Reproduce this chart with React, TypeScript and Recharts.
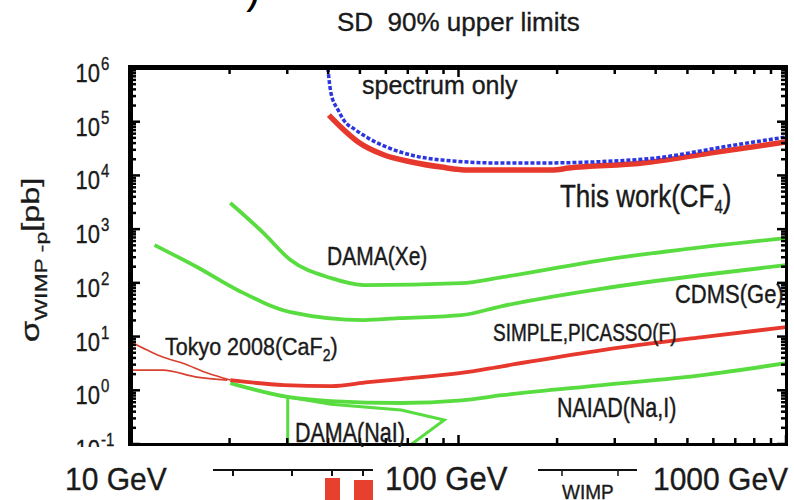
import React from "react";
import { LineChart, Line, XAxis, YAxis } from "recharts";

const W = 794;
const H = 500;
const PLOT = { left: 131, top: 68, right: 786, bottom: 444 };
const FONT = "'Liberation Sans', Arial, Helvetica, sans-serif";
const INK = "#1a1a1a";

const GREEN = "#58dc40";
const RED = "#e6382c";
const THIN_RED = "#d8402f";
const BLUE = "#2b36e0";

// WIMP mass [GeV] / cross section [pb]
const thisWorkMass = [40.2, 43.7, 49.4, 59.3, 71.8, 88.6, 107, 193, 217, 364, 585, 1000];
const thisWorkSigma = [1.33e5, 8e4, 4.2e4, 2.4e4, 1.78e4, 1.43e4, 1.26e4, 1.26e4, 1.37e4, 1.7e4, 2.6e4, 4.2e4];

const spectrumMass = [39.9, 40.8, 42.9, 44.6, 48.6, 52.9, 66.8, 88.8, 136, 171, 364, 700, 1000];
const spectrumSigma = [1e6, 3.4e5, 1.65e5, 1.08e5, 7e4, 5e4, 2.7e4, 1.94e4, 1.7e4, 1.7e4, 2.0e4, 3.7e4, 5.2e4];

const damaXeMass = [20.1, 25.4, 30.7, 40.8, 51.5, 102, 136, 275, 556, 1000];
const damaXeSigma = [3060, 845, 266, 123, 91, 99, 128, 266, 464, 682];

const cdmsMass = [11.8, 15.9, 21.2, 30.7, 51.5, 65.6, 102, 136, 275, 556, 1000];
const cdmsSigma = [506, 197, 73, 28.6, 20.3, 22, 25, 37, 78, 140, 214];

const simpleMass = [20.1, 29.3, 40.8, 53, 66.8, 102, 136, 275, 556, 1000];
const simpleSigma = [1.55, 1.25, 1.2, 1.42, 1.62, 2.1, 2.8, 5.6, 9.8, 15];

const simpleLowMass = [10, 12.5, 15.9, 19.7];
const simpleLowSigma = [2.38, 2.38, 1.76, 1.55];

const tokyoMass = [10, 11.2, 12.5, 14.4, 17.1, 20.1];
const tokyoSigma = [7.9, 5.6, 4.15, 3.2, 2.09, 1.55];

const naiadMass = [20.1, 30.1, 40.8, 66.8, 102, 136, 275, 556, 1000];
const naiadSigma = [1.36, 0.75, 0.63, 0.58, 0.65, 0.81, 1.25, 1.92, 3.2];

// closed region, drawn in order
const damaNaIMass = [30.1, 30.1, 40.8, 66.8, 90.5, 72];
const damaNaISigma = [0.1, 0.75, 0.55, 0.43, 0.28, 0.1];

const massTicks = [10, 20, 30, 40, 50, 60, 70, 80, 90, 100, 200, 300, 400, 500, 600, 700, 800, 900, 1000];
const sigmaTicks: number[] = [];
for (let e = -1; e < 6; e++) {
  for (let k = 1; k < 10; k++) sigmaTicks.push(k * Math.pow(10, e));
}
sigmaTicks.push(1e6);

const pts = (m: number[], s: number[]) => m.map((v, i) => ({ m: v, s: s[i] }));

function isDecade(v: number) {
  const e = Math.log10(v);
  return Math.abs(e - Math.round(e)) < 1e-6;
}

function MassTick(props: any) {
  const { x, payload } = props;
  const len = isDecade(payload.value) ? 9 : 6;
  return (
    <g>
      <line x1={x} x2={x} y1={PLOT.bottom} y2={PLOT.bottom - len} stroke="#000" strokeWidth={2.5} />
      <line x1={x} x2={x} y1={PLOT.top} y2={PLOT.top + len} stroke="#000" strokeWidth={2.5} />
    </g>
  );
}

function SigmaTick(props: any) {
  const { y, payload } = props;
  const v = payload.value;
  const major = isDecade(v);
  const len = major ? 9 : 5;
  return (
    <g>
      <line x1={PLOT.left} x2={PLOT.left + len} y1={y} y2={y} stroke="#000" strokeWidth={2.5} />
      <line x1={PLOT.right - len} x2={PLOT.right} y1={y} y2={y} stroke="#000" strokeWidth={2.5} />
      {major && (
        <g transform={`translate(100 ${y + 14}) scale(1 1.2)`} fontFamily={FONT} fill={INK} stroke={INK} strokeWidth={0.3}>
          <text x={0} y={0} textAnchor="end" fontSize={22}>10</text>
          <text x={1} y={-10} fontSize={15}>{Math.round(Math.log10(v))}</text>
        </g>
      )}
    </g>
  );
}

function Label({ x, y, size, sy = 1.2, children }: any) {
  return (
    <text
      transform={`translate(${x} ${y}) scale(1 ${sy})`}
      fontSize={size}
      fontFamily={FONT}
      fill={INK}
      stroke={INK}
      strokeWidth={0.35}
      style={{ whiteSpace: "pre" }}
    >
      {children}
    </text>
  );
}

export default function App() {
  return (
    <div style={{ position: "absolute", left: 0, top: 0, width: W, height: H, background: "#fff" }}>
      <LineChart width={W} height={H} margin={{ top: PLOT.top, right: W - PLOT.right, bottom: 0, left: 0 }}>
        <XAxis
          dataKey="m"
          type="number"
          scale="log"
          domain={[10, 1000]}
          allowDataOverflow
          ticks={massTicks}
          interval={0}
          height={H - PLOT.bottom}
          axisLine={false}
          tickLine={false}
          tickSize={0}
          tickMargin={0}
          tick={MassTick}
        />
        <YAxis
          dataKey="s"
          type="number"
          scale="log"
          domain={[0.1, 1e6]}
          allowDataOverflow
          ticks={sigmaTicks}
          interval={0}
          width={PLOT.left}
          axisLine={false}
          tickLine={false}
          tickSize={0}
          tickMargin={0}
          tick={SigmaTick}
        />

        <Line data={pts(damaXeMass, damaXeSigma)} dataKey="s" type="monotone" stroke={GREEN} strokeWidth={3.8} dot={false} isAnimationActive={false} />
        <Line data={pts(cdmsMass, cdmsSigma)} dataKey="s" type="monotone" stroke={GREEN} strokeWidth={3.8} dot={false} isAnimationActive={false} />
        <Line data={pts(naiadMass, naiadSigma)} dataKey="s" type="monotone" stroke={GREEN} strokeWidth={3.8} dot={false} isAnimationActive={false} />
        <Line data={pts(damaNaIMass, damaNaISigma)} dataKey="s" type="linear" stroke={GREEN} strokeWidth={3} dot={false} isAnimationActive={false} />
        <Line data={pts(tokyoMass, tokyoSigma)} dataKey="s" type="monotone" stroke={THIN_RED} strokeWidth={1.6} dot={false} isAnimationActive={false} />
        <Line data={pts(simpleLowMass, simpleLowSigma)} dataKey="s" type="monotone" stroke={THIN_RED} strokeWidth={1.8} dot={false} isAnimationActive={false} />
        <Line data={pts(simpleMass, simpleSigma)} dataKey="s" type="monotone" stroke={RED} strokeWidth={3.8} dot={false} isAnimationActive={false} />
        <Line data={pts(thisWorkMass, thisWorkSigma)} dataKey="s" type="monotone" stroke={RED} strokeWidth={5.5} dot={false} isAnimationActive={false} />
        <Line data={pts(spectrumMass, spectrumSigma)} dataKey="s" type="monotone" stroke={BLUE} strokeWidth={3.5} strokeDasharray="4 2" dot={false} isAnimationActive={false} />
      </LineChart>

      {/* plot frame */}
      <div
        style={{
          position: "absolute",
          left: PLOT.left - 3,
          top: PLOT.top - 3,
          width: PLOT.right - PLOT.left + 5,
          height: PLOT.bottom - PLOT.top + 5,
          borderTop: "5px solid #000",
          borderLeft: "5px solid #000",
          borderRight: "3px solid #000",
          borderBottom: "3px solid #000",
          boxSizing: "border-box",
          pointerEvents: "none",
        }}
      />

      <svg width={W} height={H} style={{ position: "absolute", left: 0, top: 0, pointerEvents: "none" }}>
        {/* cut-off glyph at the top edge */}
        <text x={246} y={3} fontSize={44} fontFamily={FONT} fill="#000">)</text>

        <Label x={337} y={31} size={26} sy={1.0}>SD  90% upper limits</Label>

        <text transform="translate(39 260) scale(1 1.35) rotate(-90)" textAnchor="middle" fontFamily={FONT} fill={INK} stroke={INK} strokeWidth={0.3} fontSize={26}>
          σ<tspan fontSize={17} dy={8}>WIMP -p</tspan><tspan fontSize={24} dy={-8}>[pb]</tspan>
        </text>

        <Label x={362} y={94} size={25} sy={1.05}>spectrum only</Label>
        <Label x={560} y={207} size={26} sy={1.2}>
          This work(CF<tspan fontSize={15} dy={5}>4</tspan><tspan dy={-5}>)</tspan>
        </Label>
        <Label x={327} y={265} size={21} sy={1.2}>DAMA(Xe)</Label>
        <Label x={675} y={303} size={22} sy={1.15}>CDMS(Ge)</Label>
        <Label x={493} y={341} size={19} sy={1.3}>SIMPLE,PICASSO(F)</Label>
        <Label x={165} y={355} size={21.5} sy={1.15}>
          Tokyo 2008(CaF<tspan fontSize={14} dy={5}>2</tspan><tspan dy={-5}>)</tspan>
        </Label>
        <Label x={557} y={417} size={21.5} sy={1.3}>NAIAD(Na,I)</Label>
        <Label x={295} y={442} size={21.5} sy={1.3}>DAMA(NaI)</Label>

        {/* strip under the frame */}
        <rect x={0} y={447} width={W} height={H - 447} fill="#fff" />
        <Label x={65} y={490} size={30} sy={1.05}>10 GeV</Label>
        <Label x={385} y={490} size={31} sy={1.05}>100 GeV</Label>
        <Label x={653} y={490} size={30} sy={1.05}>1000 GeV</Label>
        <line x1={213} x2={373} y1={470} y2={470} stroke="#111" strokeWidth={2} />
        {[233, 292, 332, 363].map(x => (
          <line key={x} x1={x} x2={x} y1={470} y2={476} stroke="#111" strokeWidth={2} />
        ))}
        <rect x={325} y={478} width={15} height={22} fill="#e8402e" />
        <rect x={354} y={480} width={19} height={20} fill="#e8402e" />
        <line x1={538} x2={637} y1={470} y2={470} stroke="#111" strokeWidth={2} />
        {[562, 618].map(x => (
          <line key={x} x1={x} x2={x} y1={470} y2={476} stroke="#111" strokeWidth={1.5} />
        ))}
        <Label x={562} y={499} size={19} sy={1.1}>WIMP</Label>
      </svg>
    </div>
  );
}
